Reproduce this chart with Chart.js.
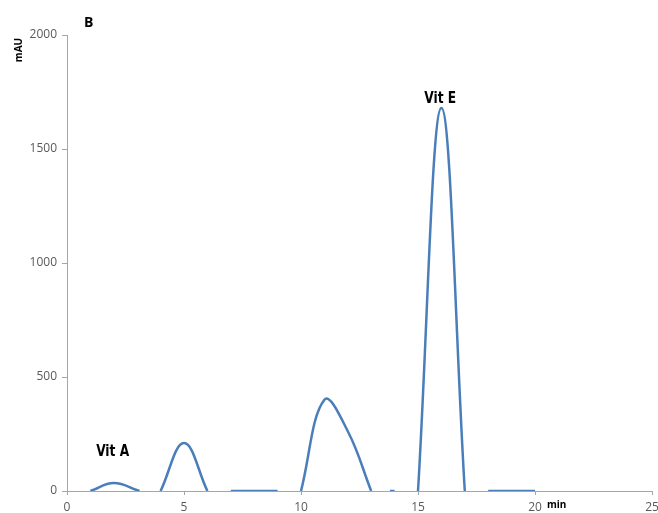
<!DOCTYPE html>
<html>
<head>
<meta charset="utf-8">
<script src="https://cdn.jsdelivr.net/npm/chart.js@4/dist/chart.umd.min.js"></script>
<style>
    html, body { margin: 0; padding: 0; background: #ffffff; }
    #chartBox { width: 658px; height: 513px; position: relative; }
</style>
</head>
<body>
<div id="chartBox"><canvas id="chromatogramChart"></canvas></div>
<script>
// Retention time (min) and detector signal (mAU), null = break in the trace
const timeMin = [1, 2, 3.1, null, 4, 5, 6, null, 7, 8, 9, null, 10, 11, 12, 13, null, 13.8, 14, null, 15, 16, 17, null, 18, 19, 20]
const signalMau = [0, 35, 0, null, 0, 210, 0, null, 0, 0, 0, null, 0, 400, 262, 0, null, 0, 0, null, 0, 1680, 0, null, 0, 0, 0]

// Peak labels
const peakNames = ['Vit A', 'Vit E']
const peakTimes = [1.95, 15.95]
const peakLabelLevels = [170, 1720]

const xTicks = [0, 5, 10, 15, 20, 25]
const yTicks = [0, 500, 1000, 1500, 2000]

const AXIS_COLOR = '#a6a6a6'
const TICK_TEXT = '#595959'
const LINE_COLOR = '#4a7ebb'

const points = timeMin.map((t, i) => ({ x: t, y: signalMau[i] }))

// Titles and peak names drawn on top of the chart
const textPlugin = {
    id: 'chromTexts',
    afterDraw(chart) {
        const ctx = chart.ctx
        const xs = chart.scales.x
        const ys = chart.scales.y
        ctx.save()
        ctx.fillStyle = '#000000'
        ctx.textBaseline = 'middle'

        ctx.textAlign = 'left'
        ctx.font = 'bold 14px "Open Sans", sans-serif'
        ctx.fillText('B', 84, 23)

        ctx.font = 'bold 10px "Open Sans", sans-serif'
        ctx.fillText('min', 547, 505)

        ctx.save()
        ctx.translate(19, 50)
        ctx.rotate(-Math.PI / 2)
        ctx.textAlign = 'center'
        ctx.fillText('mAU', 0, 0)
        ctx.restore()

        ctx.textAlign = 'center'
        ctx.font = 'bold 16px "Liberation Sans Narrow", "DejaVu Sans Condensed", sans-serif'
        peakNames.forEach((name, i) => {
            const px = xs.getPixelForValue(peakTimes[i])
            const py = ys.getPixelForValue(peakLabelLevels[i])
            ctx.save()
            ctx.translate(px, py)
            ctx.scale(0.85, 1)
            ctx.fillText(name, 0, 0)
            ctx.restore()
        })
        ctx.restore()
    }
}

const tickFont = { family: '"Open Sans", sans-serif', size: 12 }

new Chart(document.getElementById('chromatogramChart'), {
    type: 'line',
    data: {
        datasets: [{
            label: 'Signal',
            data: points,
            borderColor: LINE_COLOR,
            borderWidth: 2.5,
            pointRadius: 0,
            tension: 0.4,
            spanGaps: false,
            fill: false
        }]
    },
    options: {
        responsive: true,
        maintainAspectRatio: false,
        animation: false,
        layout: { padding: { top: 35, right: 6, left: 0, bottom: 0 } },
        plugins: {
            legend: { display: false },
            tooltip: { enabled: false }
        },
        scales: {
            x: {
                type: 'linear',
                min: 0,
                max: 25,
                afterBuildTicks: scale => { scale.ticks = xTicks.map(v => ({ value: v })) },
                afterFit: scale => {
                    scale.height = 22
                    scale.paddingLeft = 0
                    scale.paddingRight = 0
                },
                ticks: { color: TICK_TEXT, font: tickFont, padding: 5, maxRotation: 0, callback: v => String(v) },
                grid: { drawOnChartArea: false, drawTicks: true, tickLength: 4, color: AXIS_COLOR },
                border: { color: AXIS_COLOR, width: 1 }
            },
            y: {
                type: 'linear',
                min: 0,
                max: 2000,
                afterBuildTicks: scale => { scale.ticks = yTicks.map(v => ({ value: v })) },
                afterFit: scale => {
                    scale.width = 67
                    scale.paddingTop = 0
                    scale.paddingBottom = 0
                },
                ticks: { color: TICK_TEXT, font: tickFont, padding: 5, callback: v => String(v) },
                grid: { drawOnChartArea: false, drawTicks: true, tickLength: 5, color: AXIS_COLOR },
                border: { color: AXIS_COLOR, width: 1 }
            }
        }
    },
    plugins: [textPlugin]
})
</script>
</body>
</html>
